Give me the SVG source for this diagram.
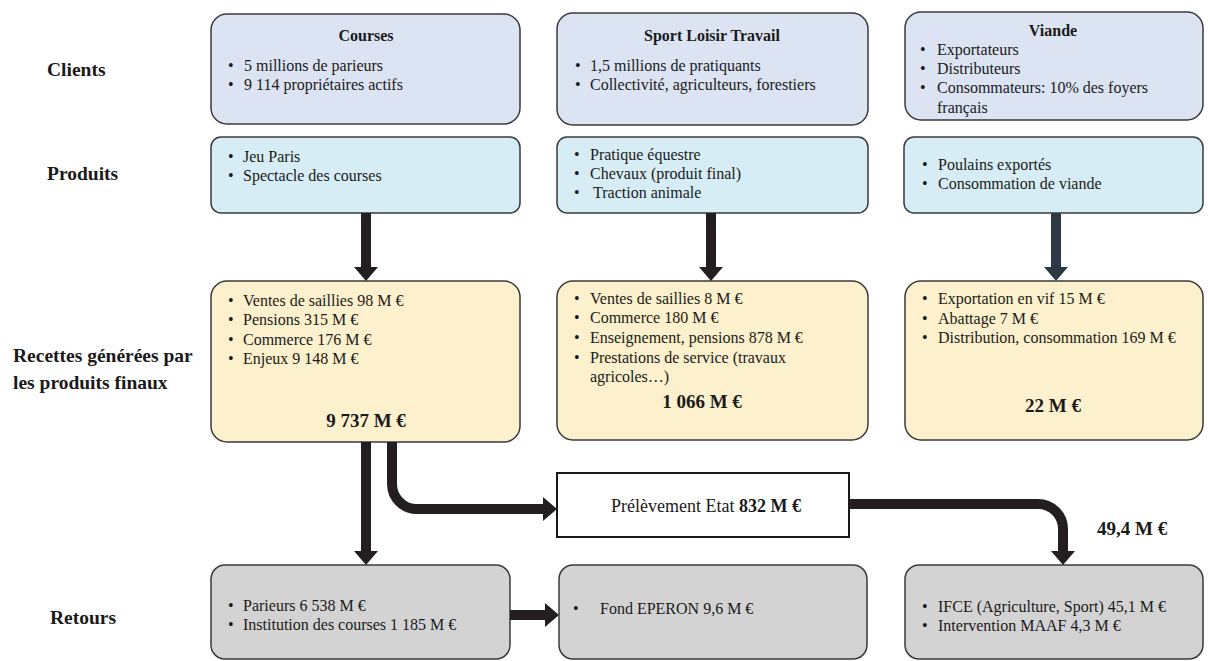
<svg xmlns="http://www.w3.org/2000/svg" width="1208" height="661" viewBox="0 0 1208 661">
<style>
text{font-family:"Liberation Serif","Times New Roman",serif;font-size:16px;fill:#1a1a1a}
.b{font-weight:bold}
.lbl{font-size:19.5px;font-weight:bold}
.tot{font-size:19px;font-weight:bold}
.box{stroke:#3a3a3a;stroke-width:1.5}
.cl{fill:#dce3f2}
.pr{fill:#d7edf5}
.re{fill:#fdf0cc}
.rt{fill:#d3d3d3}
.c{text-anchor:middle}
.conn{fill:none;stroke:#231f20;stroke-width:10}
</style>
<defs>
<marker id="ah" markerUnits="userSpaceOnUse" markerWidth="14" markerHeight="24" viewBox="0 0 14 24" refX="0" refY="12" orient="auto"><path d="M0,0 L14,12 L0,24 Z" fill="#231f20"/></marker>
<marker id="ahb" markerUnits="userSpaceOnUse" markerWidth="14" markerHeight="24" viewBox="0 0 14 24" refX="0" refY="12" orient="auto"><path d="M0,0 L14,12 L0,24 Z" fill="#2e3744"/></marker>
</defs>
<rect width="1208" height="661" fill="#ffffff"/>

<g id="row-labels">
<text class="lbl" x="47" y="76">Clients</text>
<text class="lbl" x="47" y="180">Produits</text>
<text class="lbl" x="13" y="362">Recettes générées par</text>
<text class="lbl" x="13" y="389">les produits  finaux</text>
<text class="lbl" x="50" y="624">Retours</text>
</g>

<g id="clients-courses">
<rect class="box cl" x="211" y="14" width="309" height="110" rx="16"/>
<text class="b c" x="366" y="41">Courses</text>
<text x="228" y="71">•</text><text x="244" y="71">5 millions de parieurs</text>
<text x="228" y="90">•</text><text x="244" y="90">9 114 propriétaires actifs</text>
</g>
<g id="clients-sport">
<rect class="box cl" x="557" y="13" width="311" height="112" rx="16"/>
<text class="b c" x="712" y="41">Sport Loisir Travail</text>
<text x="575" y="71">•</text><text x="590" y="71">1,5 millions de pratiquants</text>
<text x="575" y="90">•</text><text x="590" y="90">Collectivité,  agriculteurs, forestiers</text>
</g>
<g id="clients-viande">
<rect class="box cl" x="905" y="12" width="298" height="108" rx="16"/>
<text class="b c" x="1053" y="36">Viande</text>
<text x="920" y="55">•</text><text x="937" y="55">Exportateurs</text>
<text x="920" y="74">•</text><text x="937" y="74">Distributeurs</text>
<text x="920" y="93">•</text><text x="937" y="93">Consommateurs: 10% des foyers</text>
<text x="937" y="113">français</text>
</g>

<g id="produits-courses">
<rect class="box pr" x="211" y="137" width="309" height="76" rx="10"/>
<text x="228" y="162">•</text><text x="243" y="162">Jeu Paris</text>
<text x="228" y="181">•</text><text x="243" y="181">Spectacle des courses</text>
</g>
<g id="produits-sport">
<rect class="box pr" x="557" y="137" width="311" height="76" rx="10"/>
<text x="574" y="160">•</text><text x="590" y="160">Pratique équestre</text>
<text x="574" y="179">•</text><text x="590" y="179">Chevaux (produit final)</text>
<text x="574" y="198">•</text><text x="593" y="198">Traction animale</text>
</g>
<g id="produits-viande">
<rect class="box pr" x="904" y="137" width="299" height="76" rx="10"/>
<text x="922" y="170">•</text><text x="938" y="170">Poulains exportés</text>
<text x="922" y="189">•</text><text x="938" y="189">Consommation de viande</text>
</g>

<g id="recettes-courses">
<rect class="box re" x="211" y="281" width="309" height="161" rx="16"/>
<text x="228" y="306">•</text><text x="243" y="306">Ventes de saillies  98 M €</text>
<text x="228" y="325">•</text><text x="243" y="325">Pensions 315 M €</text>
<text x="228" y="345">•</text><text x="243" y="345">Commerce 176 M €</text>
<text x="228" y="364">•</text><text x="243" y="364">Enjeux 9 148 M €</text>
<text class="tot c" x="366" y="427">9 737 M €</text>
</g>
<g id="recettes-sport">
<rect class="box re" x="557" y="281" width="311" height="159" rx="16"/>
<text x="574" y="304">•</text><text x="590" y="304">Ventes de saillies  8 M €</text>
<text x="574" y="323">•</text><text x="590" y="323">Commerce 180 M €</text>
<text x="574" y="343">•</text><text x="590" y="343">Enseignement, pensions 878 M €</text>
<text x="574" y="363">•</text><text x="590" y="363">Prestations de service (travaux</text>
<text x="590" y="382">agricoles…)</text>
<text class="tot c" x="702" y="408">1 066 M €</text>
</g>
<g id="recettes-viande">
<rect class="box re" x="905" y="281" width="298" height="159" rx="16"/>
<text x="922" y="304">•</text><text x="938" y="304">Exportation en vif 15 M €</text>
<text x="922" y="324">•</text><text x="938" y="324">Abattage 7 M €</text>
<text x="922" y="343">•</text><text x="938" y="343">Distribution, consommation 169 M €</text>
<text class="tot c" x="1053" y="412">22 M €</text>
</g>

<g id="prelevement">
<rect x="557" y="473" width="292" height="64" fill="#ffffff" stroke="#1a1a1a" stroke-width="2"/>
<text x="611" y="512" style="font-size:18px">Prélèvement  Etat  <tspan class="b">832 M €</tspan></text>
</g>

<g id="label-494">
<text class="tot" x="1097" y="535">49,4 M €</text>
</g>

<g id="retours-courses">
<rect class="box rt" x="211" y="565" width="299" height="94" rx="14"/>
<text x="228" y="611">•</text><text x="243" y="611">Parieurs 6 538 M €</text>
<text x="228" y="630">•</text><text x="243" y="630">Institution des courses  1 185 M €</text>
</g>
<g id="retours-eperon">
<rect class="box rt" x="559" y="565" width="308" height="94" rx="14"/>
<text x="573" y="614">•</text><text x="600" y="614">Fond EPERON 9,6 M €</text>
</g>
<g id="retours-ifce">
<rect class="box rt" x="905" y="565" width="298" height="94" rx="14"/>
<text x="922" y="612">•</text><text x="938" y="612">IFCE (Agriculture,  Sport) 45,1 M €</text>
<text x="922" y="631">•</text><text x="938" y="631">Intervention MAAF 4,3 M €</text>
</g>

<g id="connectors">
<path class="conn" d="M366,213 V267" marker-end="url(#ah)"/>
<path class="conn" d="M711,213 V267" marker-end="url(#ah)"/>
<path class="conn" d="M1056,213 V267" style="stroke:#2e3744" marker-end="url(#ahb)"/>
<path class="conn" d="M366,442 V551" marker-end="url(#ah)"/>
<path class="conn" d="M392,442 V484 A25,25 0 0 0 417,509 H543" marker-end="url(#ah)"/>
<path class="conn" d="M849,504 H1038 A25,25 0 0 1 1063,529 V551" marker-end="url(#ah)"/>
<path class="conn" d="M510,615 H545" marker-end="url(#ah)"/>
</g>
</svg>
